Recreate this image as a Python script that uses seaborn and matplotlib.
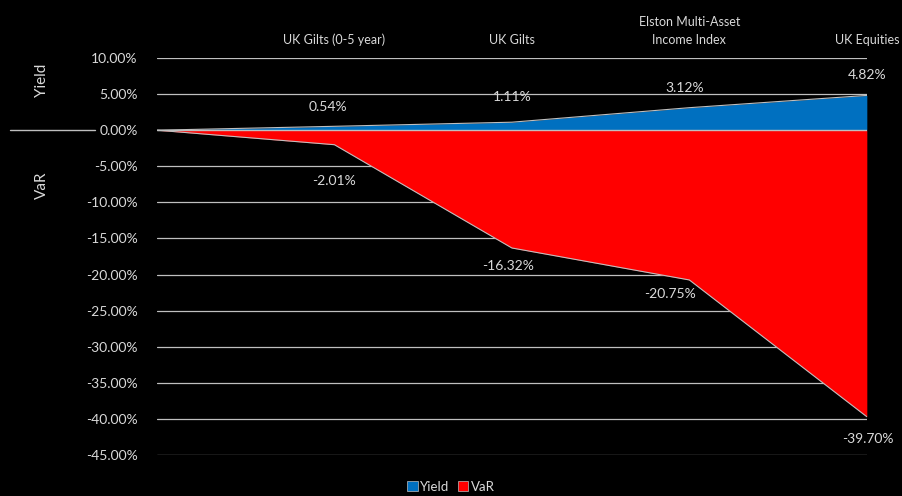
import numpy as np
import pandas as pd
import matplotlib
matplotlib.use("Agg")
import matplotlib.pyplot as plt
import matplotlib.transforms as mtransforms
from matplotlib.patches import Patch
import seaborn as sns

# -------------------------------
# Data
# -------------------------------
categories = ["", "UK Gilts (0-5 year)", "UK Gilts", "Elston Multi-Asset\nIncome Index", "UK Equities"]
yield_vals = [0.0, 0.54, 1.11, 3.12, 4.82]
var_vals = [0.0, -2.01, -16.32, -20.75, -39.70]
yticks = [10, 5, 0, -5, -10, -15, -20, -25, -30, -35, -40, -45]

df = pd.DataFrame({"pos": range(len(categories)), "Yield": yield_vals, "VaR": var_vals})

# label offsets (points)
yield_off = [(0, 0), (-5, 14), (0, 18), (-3, 14), (0, 15)]
var_off = [(0, 0), (0, -26), (-3, -13), (-14, -10), (1, -16)]

# -------------------------------
# Style
# -------------------------------
sns.set_theme(style="dark")
plt.rcParams["font.family"] = ["Lato", "DejaVu Sans"]
txt = "#D9D9D9"
grid_c = "#BFBFBF"
blue = "#0070C0"
red = "#FF0000"

fig = plt.figure(figsize=(9.02, 4.96), dpi=100, facecolor="black")
ax = fig.add_axes([0.174, 0.0827, 0.787, 0.8003])
ax.set_facecolor("black")

# gridlines
for t in yticks:
    ax.axhline(t, color=grid_c, lw=0.9, zorder=0)

# areas
ax.fill_between(df["pos"], 0, df["Yield"], color=blue, zorder=2, lw=0)
ax.fill_between(df["pos"], 0, df["VaR"], color=red, zorder=2, lw=0)
sns.lineplot(data=df, x="pos", y="Yield", color=grid_c, lw=0.8, ax=ax, zorder=3)
sns.lineplot(data=df, x="pos", y="VaR", color=grid_c, lw=0.8, ax=ax, zorder=3)
ax.axhline(0, color=grid_c, lw=1.0, zorder=4)

ax.set_xlim(0, len(categories) - 1)
ax.set_ylim(-45, 10)
ax.set_yticks(yticks)
ax.set_yticklabels([f"{t:.2f}%" for t in yticks], color=txt, fontsize=10)
ax.tick_params(axis="y", length=0, pad=14)

ax.xaxis.tick_top()
ax.set_xticks(df["pos"][1:])
ax.set_xticklabels(categories[1:], color=txt, fontsize=9, linespacing=1.6)
ax.tick_params(axis="x", length=0, pad=9)
ax.set_xlabel("")
ax.set_ylabel("")
for s in ax.spines.values():
    s.set_visible(False)

# data labels
for i in range(1, len(categories)):
    ax.annotate(f"{yield_vals[i]:.2f}%", (df["pos"][i], yield_vals[i]), xytext=yield_off[i],
                textcoords="offset points", ha="center", va="center", color=txt, fontsize=10, zorder=5)
    ax.annotate(f"{var_vals[i]:.2f}%", (df["pos"][i], var_vals[i]), xytext=var_off[i],
                textcoords="offset points", ha="center", va="center", color=txt, fontsize=10, zorder=5)

# left side labels
trans = mtransforms.blended_transform_factory(fig.transFigure, ax.transData)
ax.plot([0.011, 0.105], [0, 0], color=grid_c, lw=1.0, transform=trans, clip_on=False)
ax.text(0.047, 6.9, "Yield", rotation=90, ha="center", va="center", color=txt, fontsize=11, transform=trans)
ax.text(0.047, -7.6, "VaR", rotation=90, ha="center", va="center", color=txt, fontsize=11, transform=trans)

# legend
handles = [Patch(facecolor=blue, edgecolor=grid_c, lw=0.5), Patch(facecolor=red, edgecolor=grid_c, lw=0.5)]
leg = fig.legend(handles, ["Yield", "VaR"], loc="lower center", bbox_to_anchor=(0.5, 0.0), ncol=2,
                 frameon=False, fontsize=9.5, handlelength=0.8, handleheight=0.8, handletextpad=0.2,
                 columnspacing=0.6, labelcolor=txt, borderpad=0.15, borderaxespad=0.1)

fig.savefig("out.png", dpi=100, facecolor="black")
